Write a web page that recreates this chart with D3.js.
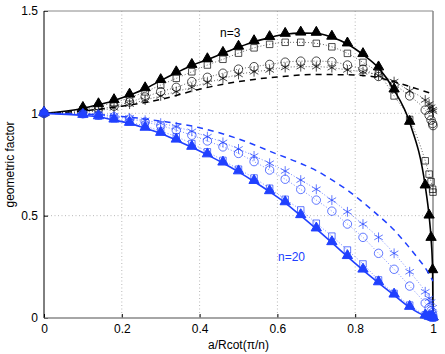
<!DOCTYPE html>
<html>
<head>
<meta charset="utf-8">
<script src="https://cdn.jsdelivr.net/npm/d3@7"></script>
<style>
  body { margin: 0; background: #fff; }
  svg { font-family: "Liberation Sans", Arial, sans-serif; }
</style>
</head>
<body>
<svg id="chart" width="445" height="354"></svg>
<script>
// sample positions of the markers (a/Rcot(pi/n))
var xs = [0, 0.1, 0.14, 0.18, 0.22, 0.26, 0.30, 0.34, 0.38, 0.42, 0.46, 0.50, 0.54, 0.58,
          0.62, 0.66, 0.70, 0.74, 0.78, 0.82, 0.86, 0.90, 0.94, 0.98, 0.99, 0.995, 0.999, 1];

// n = 3 (black)
var n3Tri  = [1, 1.024, 1.042, 1.062, 1.089, 1.12, 1.16, 1.198, 1.234, 1.262, 1.293, 1.323, 1.35, 1.37,
              1.386, 1.392, 1.391, 1.372, 1.339, 1.287, 1.222, 1.114, 0.956, 0.645, 0.498, 0.389, 0.231, 0];
var n3Sq   = [1, 1.018, 1.034, 1.052, 1.076, 1.105, 1.138, 1.171, 1.203, 1.236, 1.264, 1.294, 1.32, 1.337,
              1.347, 1.347, 1.342, 1.325, 1.293, 1.249, 1.195, 1.085, 0.97, 0.768, 0.703, 0.666, 0.629, 0.615];
var n3Circ = [1, 1.01, 1.02, 1.035, 1.055, 1.08, 1.106, 1.127, 1.155, 1.176, 1.196, 1.216, 1.228, 1.239,
              1.25, 1.255, 1.255, 1.252, 1.236, 1.216, 1.18, 1.14, 1.085, 1.016, 0.99, 0.967, 0.95, 0.94];
var n3Star = [1, 1.005, 1.013, 1.027, 1.045, 1.065, 1.085, 1.106, 1.127, 1.15, 1.17, 1.19, 1.203, 1.212,
              1.224, 1.228, 1.228, 1.223, 1.212, 1.203, 1.185, 1.155, 1.11, 1.065, 1.045, 1.03, 1.018, 1.01];
var n3DashX = [0, 0.1, 0.2, 0.3, 0.4, 0.5, 0.6, 0.7, 0.8, 0.86, 0.9, 0.95, 1];
var n3Dash  = [1, 1.012, 1.035, 1.068, 1.118, 1.155, 1.178, 1.19, 1.187, 1.175, 1.154, 1.125, 1.094];

// n = 20 (blue)
var n20Tri  = [1, 0.99, 0.983, 0.967, 0.951, 0.927, 0.902, 0.869, 0.834, 0.797, 0.757, 0.714, 0.667, 0.617,
               0.563, 0.5, 0.435, 0.368, 0.3, 0.234, 0.172, 0.112, 0.052, 0.01, 0.004, 0.002, 0.001, 0];
var n20Sq   = [1, 0.995, 0.986, 0.973, 0.958, 0.937, 0.913, 0.886, 0.852, 0.812, 0.77, 0.727, 0.684, 0.634,
               0.58, 0.528, 0.463, 0.4, 0.332, 0.264, 0.186, 0.12, 0.063, 0.015, 0.008, 0.004, 0.001, 0];
var n20Circ = [1, 0.998, 0.992, 0.983, 0.972, 0.958, 0.94, 0.918, 0.893, 0.865, 0.836, 0.804, 0.764, 0.723,
               0.678, 0.628, 0.576, 0.522, 0.459, 0.394, 0.316, 0.238, 0.156, 0.073, 0.05, 0.035, 0.018, 0.005];
var n20Star = [1, 1.0, 0.996, 0.988, 0.978, 0.966, 0.952, 0.934, 0.912, 0.886, 0.858, 0.826, 0.792, 0.756,
               0.718, 0.674, 0.629, 0.576, 0.519, 0.459, 0.394, 0.316, 0.226, 0.128, 0.096, 0.078, 0.05, 0.02];
var n20DashX = [0, 0.1, 0.2, 0.3, 0.4, 0.5, 0.6, 0.66, 0.7, 0.74, 0.78, 0.82, 0.86, 0.9, 0.93, 0.96, 0.98, 1];
var n20Dash  = [1, 0.997, 0.985, 0.962, 0.93, 0.875, 0.8, 0.755, 0.72, 0.675, 0.625, 0.565, 0.5, 0.43,
                0.365, 0.295, 0.245, 0.18];

var xTicks = [0, 0.2, 0.4, 0.6, 0.8, 1];
var yTicks = [0, 0.5, 1, 1.5];

var svg = d3.select('#chart');
var padL = 44, padR = 433, padT = 11, padB = 318;
var x = d3.scaleLinear().domain([0, 1]).range([padL, padR]);
var y = d3.scaleLinear().domain([0, 1.5]).range([padB, padT]);

var BLACK = '#000';
var BLUE = '#2040ff';
var fmt = d3.format('~g');

// grid
var grid = svg.append('g').attr('stroke', '#b8b8b8').attr('stroke-width', 1).attr('stroke-dasharray', '1,2.5');
grid.selectAll('line.gx').data(xTicks.slice(1, -1)).enter().append('line')
    .attr('x1', function (d) { return x(d); }).attr('x2', function (d) { return x(d); })
    .attr('y1', padT).attr('y2', padB);
grid.selectAll('line.gy').data(yTicks.slice(1, -1)).enter().append('line')
    .attr('x1', padL).attr('x2', padR)
    .attr('y1', function (d) { return y(d); }).attr('y2', function (d) { return y(d); });

// axes
var xAxis = d3.axisBottom(x).tickValues(xTicks).tickSize(-4).tickPadding(6).tickFormat(fmt);
var yAxis = d3.axisLeft(y).tickValues(yTicks).tickSize(-4).tickPadding(6).tickFormat(fmt);
var gx = svg.append('g').attr('transform', 'translate(0,' + padB + ')').call(xAxis);
var gy = svg.append('g').attr('transform', 'translate(' + padL + ',0)').call(yAxis);
[gx, gy].forEach(function (g) {
    g.select('.domain').remove();
    g.selectAll('text').attr('font-size', 12).attr('fill', '#000')
        .attr('font-family', '"Liberation Sans", Arial, sans-serif');
    g.selectAll('.tick line').attr('stroke', '#000');
});

// box
svg.append('line').attr('x1', padL).attr('x2', padR).attr('y1', padT).attr('y2', padT)
    .attr('stroke', '#888').attr('stroke-width', 1);
svg.append('line').attr('x1', padR).attr('x2', padR).attr('y1', padT).attr('y2', padB)
    .attr('stroke', '#888').attr('stroke-width', 1.5);
svg.append('line').attr('x1', padL).attr('x2', padR).attr('y1', padB).attr('y2', padB)
    .attr('stroke', '#888').attr('stroke-width', 1.5);
svg.append('line').attr('x1', padL).attr('x2', padL).attr('y1', padT).attr('y2', padB)
    .attr('stroke', '#000').attr('stroke-width', 1);

// axis titles
svg.append('text').attr('x', (padL + padR) / 2).attr('y', 349).attr('text-anchor', 'middle')
    .attr('font-size', 12).text('a/Rcot(π/n)');
svg.append('text').attr('transform', 'translate(14,' + ((padT + padB) / 2) + ') rotate(-90)')
    .attr('text-anchor', 'middle').attr('font-size', 12).text('geometric factor');

function pts(xv, yv) { return xv.map(function (d, i) { return [d, yv[i]]; }); }
var line = d3.line().x(function (d) { return x(d[0]); }).y(function (d) { return y(d[1]); })
    .curve(d3.curveMonotoneX);

function drawLine(data, color, width, dash) {
    svg.append('path').datum(data).attr('d', line).attr('fill', 'none')
        .attr('stroke', color).attr('stroke-width', width)
        .attr('stroke-dasharray', dash || null);
}

var sym = {
    tri: d3.symbol().type(d3.symbolTriangle).size(46),
    sq: d3.symbol().type(d3.symbolSquare).size(42),
    circ: d3.symbol().type(d3.symbolCircle).size(56),
    star: d3.symbol().type(d3.symbolAsterisk).size(68)
};

function drawMarkers(data, color, kind) {
    svg.append('g').selectAll('path').data(data).enter().append('path')
        .attr('transform', function (d) {
            var dy = kind === 'tri' ? -1 : 0;
            return 'translate(' + x(d[0]) + ',' + (y(d[1]) + dy) + ')';
        })
        .attr('d', sym[kind])
        .attr('fill', kind === 'tri' ? color : 'none')
        .attr('stroke', color)
        .attr('stroke-width', kind === 'tri' ? 1 : 0.7);
}

function drawFamily(color, tri, sq, circ, star, dashX, dash) {
    drawLine(pts(xs, star), color, 0.6, '1,2');
    drawLine(pts(xs, circ), color, 0.6, '1,2');
    drawLine(pts(xs, sq), color, 0.6, '1,2');
    drawLine(pts(dashX, dash), color, 1.5, '6,5');
    drawLine(pts(xs, tri), color, 1.6);
    drawMarkers(pts(xs, star), color, 'star');
    drawMarkers(pts(xs, circ), color, 'circ');
    drawMarkers(pts(xs, sq), color, 'sq');
    drawMarkers(pts(xs, tri), color, 'tri');
}

drawFamily(BLACK, n3Tri, n3Sq, n3Circ, n3Star, n3DashX, n3Dash);
drawFamily(BLUE, n20Tri, n20Sq, n20Circ, n20Star, n20DashX, n20Dash);

// curve labels
svg.append('text').attr('x', 220).attr('y', 37).attr('font-size', 12).attr('fill', BLACK).text('n=3');
svg.append('text').attr('x', 278).attr('y', 261).attr('font-size', 12).attr('fill', BLUE).text('n=20');
</script>
</body>
</html>
